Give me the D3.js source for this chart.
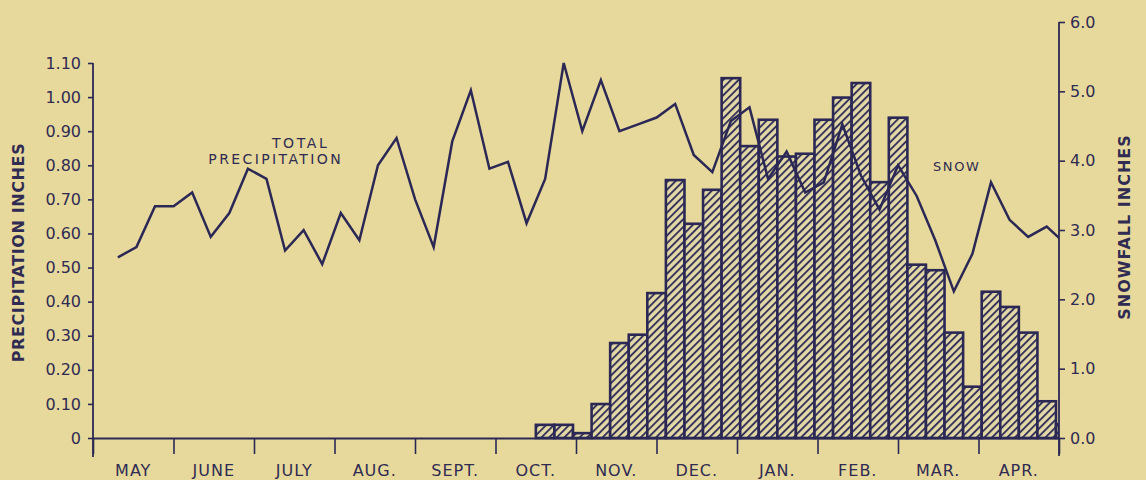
<!DOCTYPE html>
<html>
<head>
<meta charset="utf-8">
<script src="https://cdn.jsdelivr.net/npm/d3@7"></script>
<style>
  html, body { margin: 0; padding: 0; background: #e7d99c; }
  svg { display: block; }
  text { font-family: "DejaVu Sans", sans-serif; fill: #2f2b52; }
</style>
</head>
<body>
<svg id="chart" width="1146" height="480"></svg>
<script>
// ---------- data ----------
const months = ["MAY", "JUNE", "JULY", "AUG.", "SEPT.", "OCT.", "NOV.", "DEC.", "JAN.", "FEB.", "MAR.", "APR."];
const precipTicks = [0, 0.1, 0.2, 0.3, 0.4, 0.5, 0.6, 0.7, 0.8, 0.9, 1.0, 1.1];
const precipTickLabels = ["0", "0.10", "0.20", "0.30", "0.40", "0.50", "0.60", "0.70", "0.80", "0.90", "1.00", "1.10"];
const snowTicks = [0, 1, 2, 3, 4, 5, 6];
const snowTickLabels = ["0.0", "1.0", "2.0", "3.0", "4.0", "5.0", "6.0"];

// weekly total precipitation (inches), 52 weeks starting early May
const precipitation = [
  0.53, 0.56, 0.68, 0.68, 0.72, 0.59, 0.66, 0.79, 0.76, 0.55,
  0.61, 0.51, 0.66, 0.58, 0.80, 0.88, 0.70, 0.56, 0.87, 1.02,
  0.79, 0.81, 0.63, 0.76, 1.10, 0.90, 1.05, 0.90, 0.92, 0.94,
  0.98, 0.83, 0.78, 0.93, 0.97, 0.76, 0.84, 0.72, 0.75, 0.92,
  0.77, 0.67, 0.80, 0.71, 0.58, 0.43, 0.54, 0.75, 0.64, 0.59,
  0.62, 0.57
];
// weekly snowfall (inches), weeks 23..51 (mid-October to end of April)
const firstSnowWeek = 23;
const snowfall = [
  0.19, 0.19, 0.07, 0.49, 1.37, 1.49, 2.09, 3.72, 3.09, 3.58,
  5.19, 4.21, 4.59, 4.06, 4.10, 4.59, 4.91, 5.12, 3.69, 4.62,
  2.50, 2.42, 1.52, 0.74, 2.11, 1.89, 1.52, 0.53, 0.20
];
const firstWeekStartDay = 6;   // first week begins about May 6
const weeksPerYear = 52;

// ---------- layout ----------
const ink = "#2b2856";
const bg = "#e7d99c";
const svg = d3.select("#chart");
svg.append("rect").attr("width", 1146).attr("height", 480).attr("fill", bg);

const x = d3.scaleLinear().domain([0, 12]).range([93, 1059]);
const yP = d3.scaleLinear().domain([0, 1.1]).range([438, 63]);
const yS = d3.scaleLinear().domain([0, 6]).range([438, 22]);
const weekStart = i => firstWeekStartDay / 31 + i * 12 / weeksPerYear;
const weekMid = i => weekStart(i) + 6 / weeksPerYear;

const defs = svg.append("defs");
const pat = defs.append("pattern")
  .attr("id", "hatch").attr("patternUnits", "userSpaceOnUse")
  .attr("width", 5.4).attr("height", 5.4)
  .attr("patternTransform", "rotate(45)");
pat.append("rect").attr("width", 5.4).attr("height", 5.4).attr("fill", "#e2d9a6");
pat.append("line").attr("x1", 1).attr("y1", 0).attr("x2", 1).attr("y2", 5.4)
  .attr("stroke", ink).attr("stroke-width", 1.8);

defs.append("clipPath").attr("id", "plotclip")
  .append("rect").attr("x", x(0)).attr("y", 0)
  .attr("width", x(12) - x(0)).attr("height", 480);

// ---------- snowfall bars ----------
svg.append("g").attr("clip-path", "url(#plotclip)")
  .selectAll("rect").data(snowfall).join("rect")
  .attr("x", (d, j) => x(weekStart(firstSnowWeek + j)))
  .attr("width", (d, j) => Math.min(x(weekStart(firstSnowWeek + j + 1)), x(12)) - x(weekStart(firstSnowWeek + j)))
  .attr("y", d => yS(d))
  .attr("height", d => yS(0) - yS(d))
  .attr("fill", "url(#hatch)")
  .attr("stroke", ink).attr("stroke-width", 2.6)
  .attr("stroke-linejoin", "miter");

// ---------- precipitation line ----------
const line = d3.line()
  .x((d, i) => x(weekMid(i)))
  .y(d => yP(d));
svg.append("path").datum(precipitation)
  .attr("clip-path", "url(#plotclip)")
  .attr("d", line)
  .attr("fill", "none").attr("stroke", ink)
  .attr("stroke-width", 2.5).attr("stroke-linejoin", "miter");

// ---------- axes ----------
const axisStroke = 1.8;
// left axis
const gL = svg.append("g").attr("transform", `translate(${x(0)},0)`)
  .call(d3.axisLeft(yP).tickValues(precipTicks).tickSize(5).tickSizeOuter(0)
    .tickFormat((d, i) => precipTickLabels[i]).tickPadding(7));
gL.select(".domain").remove();
gL.selectAll(".tick line").attr("stroke", ink).attr("stroke-width", 1.6);
gL.selectAll(".tick text").attr("font-size", 16).attr("font-family", "DejaVu Sans")
  .attr("fill", "#3a3658");
svg.append("line").attr("x1", x(0)).attr("x2", x(0))
  .attr("y1", yP(1.1)).attr("y2", yP(0) + 19)
  .attr("stroke", ink).attr("stroke-width", axisStroke);

// right axis
const gR = svg.append("g").attr("transform", `translate(${x(12)},0)`)
  .call(d3.axisRight(yS).tickValues(snowTicks).tickSize(6).tickSizeOuter(0)
    .tickFormat((d, i) => snowTickLabels[i]).tickPadding(5));
gR.select(".domain").remove();
gR.selectAll(".tick line").attr("stroke", ink).attr("stroke-width", 1.6);
gR.selectAll(".tick text").attr("font-size", 16).attr("font-family", "DejaVu Sans")
  .attr("fill", "#3a3658");
svg.append("line").attr("x1", x(12)).attr("x2", x(12))
  .attr("y1", yS(6)).attr("y2", yS(0) + 18)
  .attr("stroke", ink).attr("stroke-width", axisStroke);

// bottom axis
const gB = svg.append("g").attr("transform", `translate(0,${yP(0)})`)
  .call(d3.axisBottom(x).tickValues(d3.range(13)).tickSize(16).tickSizeOuter(0).tickFormat(""));
gB.select(".domain").attr("stroke", ink).attr("stroke-width", axisStroke);
gB.selectAll(".tick line").attr("stroke", ink).attr("stroke-width", 1.6);

svg.append("g").selectAll("text").data(months).join("text")
  .attr("x", (d, i) => x(i + 0.5))
  .attr("y", yP(0) + 38)
  .attr("text-anchor", "middle")
  .attr("font-size", 16).attr("letter-spacing", 1)
  .attr("fill", "#3a3658")
  .text(d => d);

// axis titles
svg.append("text")
  .attr("transform", `translate(24,${(yP(1.1) + yP(0)) / 2 + 2}) rotate(-90)`)
  .attr("text-anchor", "middle").attr("font-size", 16).attr("font-weight", "bold")
  .attr("letter-spacing", 0.6)
  .attr("fill", "#38345a")
  .text("PRECIPITATION INCHES");
svg.append("text")
  .attr("transform", `translate(1130,${yS(3) - 3}) rotate(-90)`)
  .attr("text-anchor", "middle").attr("font-size", 16).attr("font-weight", "bold")
  .attr("letter-spacing", 1)
  .attr("fill", "#38345a")
  .text("SNOWFALL INCHES");

// annotations
svg.append("text").attr("x", x(2.58)).attr("y", 148)
  .attr("text-anchor", "middle").attr("font-size", 14).attr("letter-spacing", 2.6)
  .text("TOTAL");
svg.append("text").attr("x", x(2.27)).attr("y", 164)
  .attr("text-anchor", "middle").attr("font-size", 14).attr("letter-spacing", 2.4)
  .text("PRECIPITATION");
svg.append("text").attr("x", x(10.73)).attr("y", 171)
  .attr("text-anchor", "middle").attr("font-size", 13).attr("letter-spacing", 1.6)
  .text("SNOW");
</script>
</body>
</html>
